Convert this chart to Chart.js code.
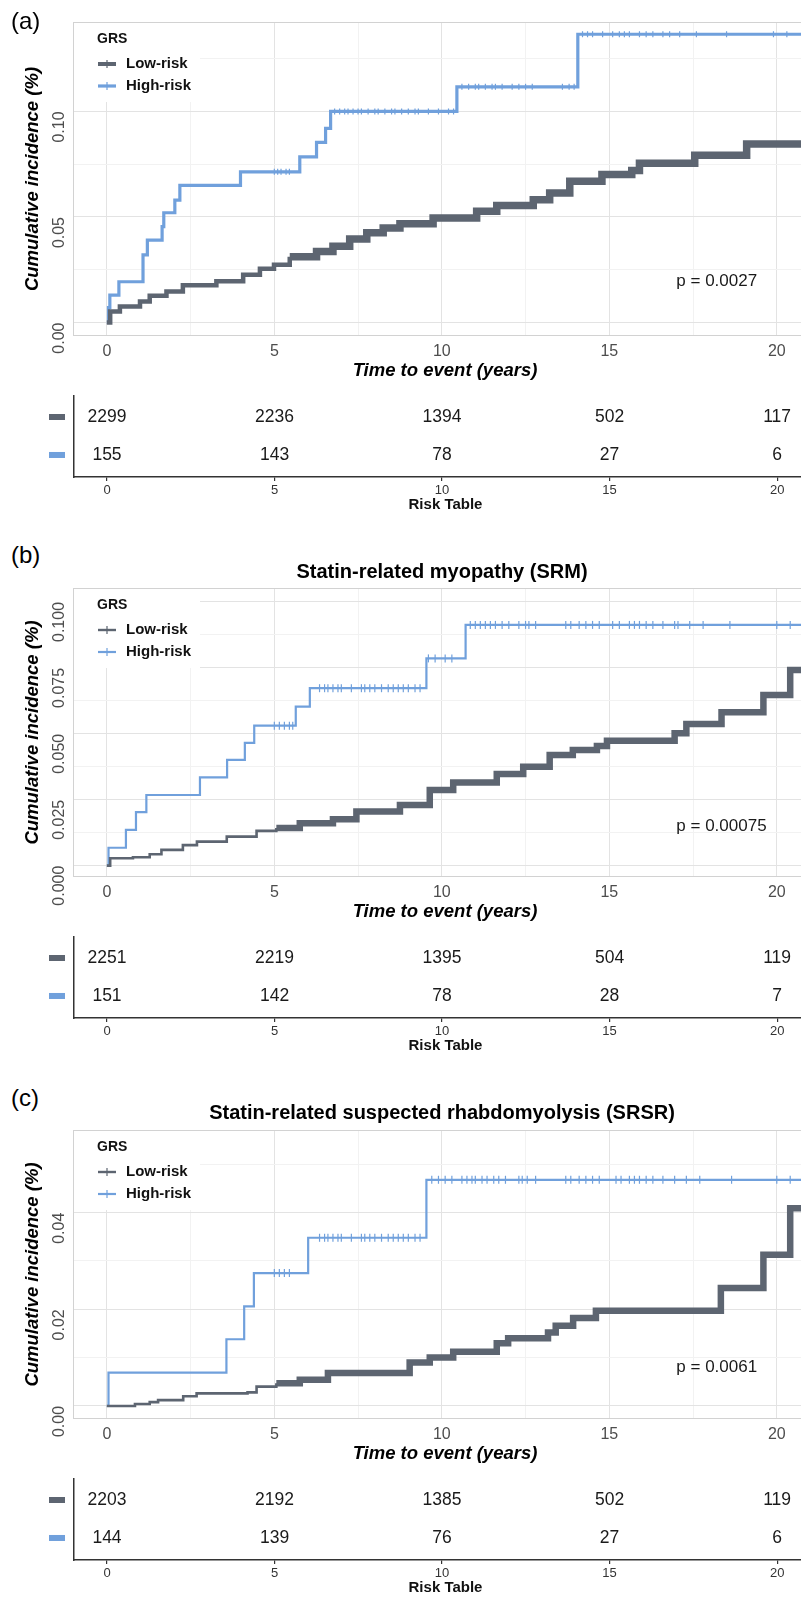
<!DOCTYPE html>
<html>
<head>
<meta charset="utf-8">
<script src="https://cdn.jsdelivr.net/npm/chart.js@4.4.0/dist/chart.umd.min.js"></script>
<style>
  body { margin: 0; background: #fff; }
  #page { position: relative; width: 801px; height: 1598px; overflow: hidden; font-family: 'Liberation Sans', Arial, sans-serif; }
  #page canvas { position: absolute; left: 0; }
  .tag { position: absolute; left: 11px; font-size: 24px; line-height: 28px; color: #000; z-index: 2; }
  .title { position: absolute; left: 142px; width: 600px; text-align: center; font-size: 20px; font-weight: bold; line-height: 24px; color: #000; z-index: 2; }
</style>
</head>
<body>
<div id="page">
  <div class="tag" style="top:7px">(a)</div>
  <div class="tag" style="top:541px">(b)</div>
  <div class="title" style="top:559px">Statin-related myopathy (SRM)</div>
  <div class="tag" style="top:1084px">(c)</div>
  <div class="title" style="top:1100px">Statin-related suspected rhabdomyolysis (SRSR)</div>
</div>
<script>
// shared
const xMajor = [0, 5, 10, 15, 20];
const xGrid = [0, 2.5, 5, 7.5, 10, 12.5, 15, 17.5, 20];
const riskTimes = [0, 5, 10, 15, 20];
const groups = ['Low-risk', 'High-risk'];

// (a) all
const aLowTime = [0, 0.1, 0.39, 0.99, 1.28, 1.78, 2.27, 3.27, 4.07, 4.57, 4.99, 5.46, 6.26, 6.75, 7.25, 7.76, 8.25, 8.75, 9.74, 11.04, 11.64, 12.73, 13.22, 13.82, 14.78, 15.67, 15.9, 17.55, 19.1, 21.2];
const aLowCum = [0, 0.0052, 0.0076, 0.0100, 0.0127, 0.0147, 0.0176, 0.0195, 0.0226, 0.0255, 0.0274, 0.0311, 0.0337, 0.0361, 0.0396, 0.0425, 0.0448, 0.0468, 0.0495, 0.0527, 0.0555, 0.0582, 0.0614, 0.0669, 0.0701, 0.0720, 0.0755, 0.0793, 0.0846, 0.0846];
const aHighTime = [0, 0.05, 0.09, 0.36, 1.08, 1.21, 1.65, 1.70, 2.03, 2.18, 3.99, 5.76, 6.26, 6.53, 6.68, 10.45, 14.06, 21.2];
const aHighCum = [0, 0.0070, 0.0130, 0.0193, 0.0320, 0.0390, 0.0454, 0.0520, 0.0580, 0.0650, 0.0714, 0.0785, 0.0854, 0.0920, 0.1000, 0.1117, 0.1366, 0.1366];
const aHighCensor = [5.0, 5.1, 5.2, 5.35, 5.45, 6.8, 6.95, 7.1, 7.2, 7.35, 7.5, 7.6, 7.8, 8.0, 8.1, 8.3, 8.5, 8.6, 8.8, 9.0, 9.2, 9.3, 9.6, 9.9, 10.2, 10.35, 10.6, 10.8, 11.0, 11.1, 11.3, 11.5, 11.6, 11.8, 12.1, 12.3, 12.5, 12.7, 13.6, 13.8, 13.95, 14.2, 14.35, 14.5, 14.8, 15.1, 15.3, 15.45, 15.6, 15.9, 16.1, 16.3, 16.6, 16.8, 17.1, 17.6, 18.5, 19.9, 20.3];
const aYMajor = [0, 0.05, 0.10];
const aYLabels = ['0.00', '0.05', '0.10'];
const aYMinor = [0.025, 0.075, 0.125];
const aRiskLow = [2299, 2236, 1394, 502, 117];
const aRiskHigh = [155, 143, 78, 27, 6];
const aPval = 'p = 0.0027';

// (b) SRM
const bLowTime = [0, 0.1, 0.78, 1.28, 1.63, 2.27, 2.69, 3.58, 4.47, 5.06, 5.76, 6.75, 7.45, 8.75, 9.64, 10.34, 11.64, 12.43, 13.22, 13.91, 14.63, 14.93, 16.95, 17.3, 18.35, 19.6, 20.4, 21.2];
const bLowCum = [0, 0.0028, 0.0032, 0.0043, 0.0060, 0.0078, 0.0091, 0.0110, 0.0132, 0.0143, 0.0161, 0.0176, 0.0205, 0.0230, 0.0287, 0.0315, 0.0348, 0.0375, 0.0420, 0.0439, 0.0454, 0.0474, 0.0502, 0.0537, 0.0582, 0.0647, 0.0742, 0.0742];
const bHighTime = [0, 0.05, 0.57, 0.87, 1.18, 2.78, 3.59, 4.12, 4.40, 5.64, 6.06, 9.54, 10.71, 21.2];
const bHighCum = [0, 0.0068, 0.0136, 0.0203, 0.0268, 0.0335, 0.0401, 0.0466, 0.0531, 0.0603, 0.0673, 0.0786, 0.0913, 0.0913];
const bHighCensor = [5.0, 5.15, 5.3, 5.45, 5.55, 6.35, 6.5, 6.6, 6.75, 6.9, 7.0, 7.3, 7.6, 7.7, 7.85, 8.0, 8.2, 8.4, 8.55, 8.7, 8.85, 9.0, 9.2, 9.35, 9.6, 9.8, 10.1, 10.3, 10.85, 11.0, 11.15, 11.3, 11.45, 11.6, 11.8, 12.0, 12.3, 12.5, 12.6, 12.8, 13.7, 13.85, 14.1, 14.3, 14.5, 14.7, 15.1, 15.3, 15.6, 15.75, 15.9, 16.1, 16.3, 16.6, 16.95, 17.05, 17.4, 17.8, 18.6, 20.0, 20.4];
const bYMajor = [0, 0.025, 0.05, 0.075, 0.10];
const bYLabels = ['0.000', '0.025', '0.050', '0.075', '0.100'];
const bYMinor = [0.0125, 0.0375, 0.0625, 0.0875];
const bRiskLow = [2251, 2219, 1395, 504, 119];
const bRiskHigh = [151, 142, 78, 28, 7];
const bPval = 'p = 0.00075';

// (c) SRSR
const cLowTime = [0, 0.84, 1.28, 1.53, 2.28, 2.68, 4.2, 4.47, 5.06, 5.76, 6.6, 9.04, 9.64, 10.34, 11.64, 11.98, 13.17, 13.4, 13.92, 14.6, 18.33, 19.6, 20.4, 21.2];
const cLowCum = [0, 0.0004, 0.0008, 0.0012, 0.0020, 0.0026, 0.0028, 0.0040, 0.0047, 0.0054, 0.0068, 0.0090, 0.0100, 0.0112, 0.0130, 0.0140, 0.0152, 0.0166, 0.0182, 0.0197, 0.0244, 0.0313, 0.0409, 0.0409];
const cHighTime = [0, 0.05, 3.57, 4.10, 4.39, 6.01, 9.54, 21.2];
const cHighCum = [0, 0.0069, 0.0138, 0.0206, 0.0275, 0.0348, 0.0468, 0.0468];
const cHighCensor = [5.0, 5.15, 5.3, 5.45, 6.35, 6.5, 6.6, 6.75, 6.9, 7.0, 7.3, 7.6, 7.7, 7.85, 8.0, 8.2, 8.4, 8.55, 8.7, 8.85, 9.0, 9.2, 9.35, 9.7, 9.9, 10.1, 10.3, 10.6, 10.75, 10.9, 11.0, 11.2, 11.35, 11.55, 11.7, 11.9, 12.3, 12.4, 12.55, 12.8, 13.7, 13.85, 14.1, 14.3, 14.5, 14.7, 15.2, 15.35, 15.6, 15.75, 15.9, 16.1, 16.3, 16.6, 16.95, 17.3, 17.7, 18.65, 20.0, 20.4];
const cYMajor = [0, 0.02, 0.04];
const cYLabels = ['0.00', '0.02', '0.04'];
const cYMinor = [0.01, 0.03, 0.05];
const cRiskLow = [2203, 2192, 1385, 502, 119];
const cRiskHigh = [144, 139, 76, 27, 6];
const cPval = 'p = 0.0061';

const LOW = '#5d6571';
const HIGH = '#70a0dc';
const MAJOR = '#e3e3e3';
const MINOR = '#f2f2f2';

Chart.defaults.font.family = "'Liberation Sans', Arial, sans-serif";

const panels = [
  { plotTop: 22, plotBottom: 336, yMin: -0.0064, yMax: 0.1424,
    lowTime: aLowTime, lowCum: aLowCum, highTime: aHighTime, highCum: aHighCum, highCensor: aHighCensor,
    yMajor: aYMajor, yLabels: aYLabels, yMinor: aYMinor, riskLow: aRiskLow, riskHigh: aRiskHigh,
    pval: aPval, pvalAt: [17.0, 0.0193], thin: 4.5, thick: 7.5, highWidth: 3.2, censorSize: 3 },
  { plotTop: 588, plotBottom: 877, yMin: -0.0043, yMax: 0.1053,
    lowTime: bLowTime, lowCum: bLowCum, highTime: bHighTime, highCum: bHighCum, highCensor: bHighCensor,
    yMajor: bYMajor, yLabels: bYLabels, yMinor: bYMinor, riskLow: bRiskLow, riskHigh: bRiskHigh,
    pval: bPval, pvalAt: [17.0, 0.0151], thin: 2.6, thick: 6.5, highWidth: 2.2, censorSize: 4 },
  { plotTop: 1130, plotBottom: 1419, yMin: -0.0027, yMax: 0.0571,
    lowTime: cLowTime, lowCum: cLowCum, highTime: cHighTime, highCum: cHighCum, highCensor: cHighCensor,
    yMajor: cYMajor, yLabels: cYLabels, yMinor: cYMinor, riskLow: cRiskLow, riskHigh: cRiskHigh,
    pval: cPval, pvalAt: [17.0, 0.0079], thin: 2.6, thick: 6.5, highWidth: 2.2, censorSize: 4 }
];

function cumAt(times, cums, t) {
  let v = cums[0];
  for (let i = 0; i < times.length; i++) {
    if (times[i] <= t) v = cums[i];
  }
  return v;
}

// legend, panel frame, rotated y labels and p value
const panelDecor = {
  id: 'panelDecor',
  beforeDatasetsDraw(chart) {
    const { ctx, chartArea: a } = chart;
    ctx.save();
    ctx.fillStyle = '#fff';
    ctx.fillRect(a.left + 1, a.top + 1, 126, 79);
    ctx.strokeStyle = '#d2d2d2';
    ctx.lineWidth = 1;
    ctx.strokeRect(a.left + 0.5, a.top + 0.5, a.right - a.left - 1, a.bottom - a.top - 1);
    ctx.restore();
  },
  afterDraw(chart) {
    const { ctx, chartArea: a, scales } = chart;
    const p = chart.options.plugins.panelDecor.panel;
    ctx.save();

    // y tick labels, rotated, ending at the tick
    ctx.fillStyle = '#4d4d4d';
    ctx.font = "16px 'Liberation Sans', Arial, sans-serif";
    ctx.textAlign = 'right';
    ctx.textBaseline = 'middle';
    p.yMajor.forEach((v, i) => {
      ctx.save();
      ctx.translate(60, scales.y.getPixelForValue(v));
      ctx.rotate(-Math.PI / 2);
      ctx.fillText(p.yLabels[i], 0, 0);
      ctx.restore();
    });

    // legend
    ctx.textAlign = 'left';
    ctx.fillStyle = '#111';
    ctx.font = "bold 14px 'Liberation Sans', Arial, sans-serif";
    ctx.fillText('GRS', 97, a.top + 17);
    ctx.font = "bold 15px 'Liberation Sans', Arial, sans-serif";
    const swatches = [[LOW, p.thin > 3 ? 4 : 2.4], [HIGH, p.highWidth]];
    groups.forEach((g, i) => {
      const y = a.top + 42 + i * 22;
      ctx.strokeStyle = swatches[i][0];
      ctx.lineWidth = swatches[i][1];
      ctx.beginPath();
      ctx.moveTo(98, y);
      ctx.lineTo(116, y);
      ctx.stroke();
      ctx.lineWidth = 1.2;
      ctx.beginPath();
      ctx.moveTo(107, y - 4);
      ctx.lineTo(107, y + 4);
      ctx.stroke();
      ctx.fillStyle = '#111';
      ctx.fillText(g, 126, y);
    });

    // p value
    ctx.font = "17px 'Liberation Sans', Arial, sans-serif";
    ctx.fillStyle = '#1a1a1a';
    ctx.fillText(p.pval, scales.x.getPixelForValue(p.pvalAt[0]), scales.y.getPixelForValue(p.pvalAt[1]));
    ctx.restore();
  }
};

// numbers at risk and row swatches
const riskText = {
  id: 'riskText',
  afterDatasetsDraw(chart) {
    const ctx = chart.ctx;
    ctx.save();
    ctx.font = "17.5px 'Liberation Sans', Arial, sans-serif";
    ctx.textAlign = 'center';
    ctx.textBaseline = 'middle';
    chart.data.datasets.forEach((ds, i) => {
      const meta = chart.getDatasetMeta(i);
      meta.data.forEach((pt, j) => {
        ctx.fillStyle = '#1a1a1a';
        ctx.fillText(String(ds.counts[j]), pt.x, pt.y);
        if (j === 0) {
          ctx.fillStyle = ds.swatch;
          ctx.fillRect(49, pt.y - 3, 16, 6);
        }
      });
    });
    ctx.restore();
  }
};

const page = document.getElementById('page');

panels.forEach(p => {
  const plot = document.createElement('canvas');
  plot.width = 817;
  plot.height = 10 + (p.plotBottom - p.plotTop) + 59;
  plot.style.top = (p.plotTop - 10) + 'px';
  page.appendChild(plot);

  new Chart(plot, {
    type: 'line',
    data: {
      datasets: [
        {
          label: groups[0],
          data: p.lowTime.map((t, i) => ({ x: t, y: p.lowCum[i] })),
          stepped: true,
          borderColor: LOW,
          borderWidth: p.thin,
          pointRadius: 0,
          segment: {
            borderWidth: c => p.lowTime[c.p0DataIndex] >= 5 ? p.thick : p.thin
          }
        },
        {
          label: groups[1],
          data: p.highTime.map((t, i) => ({ x: t, y: p.highCum[i] })),
          stepped: true,
          borderColor: HIGH,
          borderWidth: p.highWidth,
          pointRadius: 0
        },
        {
          label: 'High-risk censored',
          data: p.highCensor.map(t => ({ x: t, y: cumAt(p.highTime, p.highCum, t) })),
          showLine: false,
          pointStyle: 'line',
          rotation: 90,
          pointRadius: p.censorSize,
          borderColor: HIGH,
          borderWidth: 1.2
        }
      ]
    },
    options: {
      responsive: false,
      animation: false,
      events: [],
      layout: { padding: { top: 10, left: 0, right: 0, bottom: 0 }, autoPadding: false },
      plugins: {
        legend: { display: false },
        tooltip: { enabled: false },
        panelDecor: { panel: p }
      },
      scales: {
        x: {
          type: 'linear',
          min: -1.01,
          max: 21.2,
          afterBuildTicks: s => { s.ticks = xGrid.map(v => ({ value: v })); },
          afterFit: s => { s.height = 59; },
          grid: { color: c => xMajor.includes(c.tick.value) ? MAJOR : MINOR, drawTicks: false },
          border: { display: false },
          ticks: {
            callback: v => xMajor.includes(v) ? String(v) : '',
            color: '#4d4d4d',
            font: { size: 16 },
            padding: 6,
            maxRotation: 0,
            autoSkip: false
          },
          title: {
            display: true,
            text: 'Time to event (years)',
            color: '#000',
            font: { size: 18.5, weight: 'bold', style: 'italic' },
            padding: { top: 0, bottom: 12.9 }
          }
        },
        y: {
          type: 'linear',
          min: p.yMin,
          max: p.yMax,
          afterBuildTicks: s => {
            s.ticks = p.yMajor.concat(p.yMinor).sort((m, n) => m - n).map(v => ({ value: v }));
          },
          afterFit: s => { s.width = 73; },
          grid: { color: c => p.yMajor.includes(c.tick.value) ? MAJOR : MINOR, drawTicks: false },
          border: { display: false },
          ticks: { display: false },
          title: {
            display: true,
            text: 'Cumulative incidence (%)',
            color: '#000',
            font: { size: 18.5, weight: 'bold', style: 'italic' },
            padding: { top: 21.9, bottom: 0 }
          }
        }
      }
    },
    plugins: [panelDecor]
  });

  // risk table under the plot
  const riskTop = p.plotBottom + 60;
  const risk = document.createElement('canvas');
  risk.width = 817;
  risk.height = 126;
  risk.style.top = (riskTop - 5) + 'px';
  page.appendChild(risk);

  new Chart(risk, {
    type: 'line',
    data: {
      datasets: [
        { label: groups[0], data: riskTimes.map(t => ({ x: t, y: 1 })), counts: p.riskLow, swatch: LOW, showLine: false, pointRadius: 0 },
        { label: groups[1], data: riskTimes.map(t => ({ x: t, y: 2 })), counts: p.riskHigh, swatch: HIGH, showLine: false, pointRadius: 0 }
      ]
    },
    options: {
      responsive: false,
      animation: false,
      events: [],
      layout: { padding: { top: 5, left: 0, right: 0, bottom: 0 }, autoPadding: false },
      plugins: { legend: { display: false }, tooltip: { enabled: false } },
      scales: {
        x: {
          type: 'linear',
          min: -0.985,
          max: 21.19,
          afterBuildTicks: s => { s.ticks = riskTimes.map(v => ({ value: v })); },
          afterFit: s => { s.height = 40; },
          grid: { display: true, drawOnChartArea: false, drawTicks: true, tickLength: 4, color: '#333', lineWidth: 1.2 },
          border: { display: true, color: '#333', width: 1.5 },
          ticks: { color: '#333', font: { size: 13 }, padding: 2, maxRotation: 0, autoSkip: false },
          title: {
            display: true,
            text: 'Risk Table',
            color: '#111',
            font: { size: 15, weight: 'bold' },
            padding: { top: 0, bottom: 3 }
          }
        },
        y: {
          type: 'linear',
          reverse: true,
          min: 0.447,
          max: 2.58,
          afterFit: s => { s.width = 74; },
          grid: { display: false },
          border: { display: true, color: '#333', width: 1.5 },
          ticks: { display: false }
        }
      }
    },
    plugins: [riskText]
  });
});
</script>
</body>
</html>
